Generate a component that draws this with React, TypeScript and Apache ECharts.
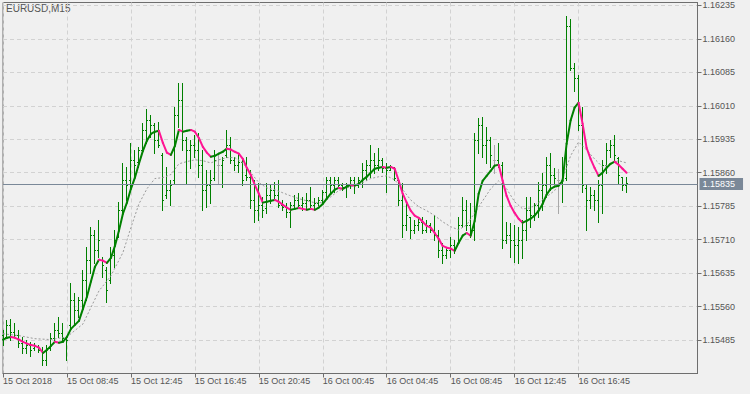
import React, { useEffect, useRef } from "react";
import * as echarts from "echarts";

const SYMBOL_TITLE = "EURUSD,M15";
const BID = 1.15835;

// time labels every 16 bars (4 hours of M15)
const xLabels = [
  "15 Oct 2018", "15 Oct 08:45", "15 Oct 12:45", "15 Oct 16:45", "15 Oct 20:45",
  "16 Oct 00:45", "16 Oct 04:45", "16 Oct 08:45", "16 Oct 12:45", "16 Oct 16:45",
];

// price tick labels on the right axis
const yTicks = [1.15485, 1.1556, 1.15635, 1.1571, 1.15785, 1.1586, 1.15935, 1.1601, 1.16085, 1.1616, 1.16235];

const open = [
  1.15495, 1.1549, 1.15517, 1.15501, 1.15495, 1.15477, 1.15465, 1.15472, 1.15465, 1.15468,
  1.15461, 1.15439, 1.15465, 1.15488, 1.15506, 1.15499, 1.15488, 1.15517, 1.15573, 1.15551,
  1.15573, 1.15618, 1.15663, 1.15719, 1.15685, 1.15663, 1.1564, 1.15618, 1.15674, 1.15719,
  1.15775, 1.15842, 1.15842, 1.15887, 1.15882, 1.15909, 1.15954, 1.15977, 1.15965, 1.15932,
  1.15898, 1.15808, 1.1582, 1.15842, 1.15988, 1.16021, 1.15932, 1.15909, 1.1592, 1.15909,
  1.15876, 1.1582, 1.15831, 1.15847, 1.15876, 1.15876, 1.15898, 1.1592, 1.15887, 1.15876,
  1.15882, 1.15853, 1.15849, 1.15797, 1.15775, 1.15786, 1.15779, 1.15808, 1.1582, 1.15808,
  1.15786, 1.15782, 1.1577, 1.15786, 1.15797, 1.15786, 1.1579, 1.15797, 1.15786, 1.1579,
  1.15797, 1.15815, 1.15842, 1.15831, 1.15842, 1.15831, 1.15826, 1.15831, 1.15842, 1.15831,
  1.15842, 1.15864, 1.15876, 1.15887, 1.15876, 1.15887, 1.15869, 1.15864, 1.15871, 1.15842,
  1.15797, 1.15741, 1.15759, 1.1573, 1.15741, 1.15748, 1.1573, 1.15741, 1.1573, 1.15719,
  1.15685, 1.15674, 1.15685, 1.15696, 1.15701, 1.15741, 1.15775, 1.15741, 1.1573, 1.15932,
  1.15965, 1.1592, 1.15932, 1.15887, 1.15887, 1.15876, 1.15708, 1.15719, 1.15708, 1.15696,
  1.15708, 1.1573, 1.15775, 1.15764, 1.15786, 1.1582, 1.15831, 1.15876, 1.15853, 1.15842,
  1.15842, 1.15847, 1.16187, 1.16093, 1.16071, 1.15965, 1.15824, 1.15797, 1.15808, 1.15797,
  1.15831, 1.15876, 1.15909, 1.1592, 1.15891, 1.15849, 1.15831,
];

const high = [
  1.15506, 1.15528, 1.1553, 1.15521, 1.15506, 1.1549, 1.15483, 1.15479, 1.15477, 1.15472,
  1.15468, 1.15472, 1.15499, 1.15521, 1.15535, 1.15521, 1.1549, 1.15611, 1.15589, 1.1558,
  1.1564, 1.15692, 1.15737, 1.1573, 1.15752, 1.15669, 1.15647, 1.15692, 1.1573, 1.15793,
  1.1588, 1.15871, 1.15925, 1.15909, 1.15916, 1.1597, 1.16001, 1.15988, 1.1597, 1.15972,
  1.15903, 1.15871, 1.15842, 1.16006, 1.16059, 1.16059, 1.15938, 1.15932, 1.15943, 1.15947,
  1.15909, 1.15864, 1.15864, 1.15909, 1.15903, 1.15894, 1.15954, 1.15938, 1.15894, 1.15903,
  1.15887, 1.15894, 1.15864, 1.15842, 1.15835, 1.15804, 1.15835, 1.15831, 1.15838, 1.15842,
  1.15797, 1.1579, 1.15793, 1.15808, 1.15813, 1.15804, 1.15813, 1.15826, 1.15802, 1.15804,
  1.1582, 1.15849, 1.15849, 1.15849, 1.15849, 1.15835, 1.15835, 1.15849, 1.15849, 1.15849,
  1.1588, 1.15887, 1.1592, 1.15903, 1.15914, 1.15891, 1.1588, 1.15876, 1.15871, 1.15842,
  1.15835, 1.1579, 1.15759, 1.15752, 1.15759, 1.15759, 1.15752, 1.15746, 1.15764, 1.1573,
  1.15701, 1.15692, 1.15714, 1.15708, 1.15759, 1.15804, 1.15797, 1.1579, 1.15947, 1.15981,
  1.15983, 1.15961, 1.15938, 1.1592, 1.15925, 1.15882, 1.15748, 1.15746, 1.15741, 1.15737,
  1.15752, 1.15804, 1.15804, 1.1579, 1.15838, 1.15858, 1.15894, 1.15903, 1.15869, 1.15867,
  1.15894, 1.1621, 1.16203, 1.16104, 1.16077, 1.16006, 1.15831, 1.15826, 1.1582, 1.15842,
  1.15887, 1.15925, 1.15932, 1.15943, 1.15894, 1.15849, 1.15849,
];

const low = [
  1.15472, 1.1549, 1.15483, 1.1549, 1.15468, 1.15454, 1.15454, 1.15448, 1.15461, 1.15456,
  1.15427, 1.15427, 1.15461, 1.15483, 1.1549, 1.15483, 1.15439, 1.15513, 1.15521, 1.15535,
  1.15551, 1.15573, 1.15634, 1.15656, 1.15669, 1.15625, 1.15569, 1.15611, 1.15647, 1.15714,
  1.15759, 1.15797, 1.15826, 1.15849, 1.15871, 1.15903, 1.15925, 1.15938, 1.15903, 1.15916,
  1.15775, 1.15802, 1.15786, 1.15835, 1.15961, 1.15909, 1.15835, 1.15869, 1.15894, 1.15849,
  1.15775, 1.15782, 1.1579, 1.15842, 1.15835, 1.15826, 1.15894, 1.1588, 1.15864, 1.1586,
  1.15831, 1.15842, 1.15779, 1.15748, 1.15752, 1.15759, 1.15768, 1.1579, 1.15802, 1.15782,
  1.15775, 1.15759, 1.15737, 1.15782, 1.15782, 1.15775, 1.15779, 1.15782, 1.15779, 1.15786,
  1.1579, 1.15804, 1.15813, 1.15815, 1.15824, 1.1582, 1.15804, 1.15824, 1.15813, 1.15826,
  1.15826, 1.15842, 1.15849, 1.15858, 1.15864, 1.1586, 1.15815, 1.15864, 1.15842, 1.15786,
  1.15714, 1.1573, 1.15712, 1.15723, 1.1573, 1.15723, 1.15725, 1.15725, 1.15708, 1.15669,
  1.15656, 1.15667, 1.15669, 1.15678, 1.15701, 1.15737, 1.1573, 1.15714, 1.15708, 1.15903,
  1.15894, 1.1588, 1.15871, 1.15858, 1.15871, 1.1569, 1.15701, 1.15669, 1.15658, 1.15656,
  1.15667, 1.15708, 1.15737, 1.15752, 1.15759, 1.15775, 1.15804, 1.1582, 1.15835, 1.15768,
  1.15793, 1.15842, 1.16089, 1.16042, 1.15954, 1.15815, 1.1573, 1.15779, 1.15775, 1.15748,
  1.15768, 1.15858, 1.15894, 1.15887, 1.15835, 1.1582, 1.15815,
];

const close = [
  1.15488, 1.15517, 1.15501, 1.15495, 1.15477, 1.15465, 1.15472, 1.15461, 1.1547, 1.15461,
  1.15439, 1.15465, 1.15488, 1.15506, 1.15499, 1.15488, 1.15483, 1.15573, 1.15551, 1.15573,
  1.15618, 1.15663, 1.15719, 1.15685, 1.15708, 1.15651, 1.15595, 1.15674, 1.15708, 1.15775,
  1.15842, 1.15831, 1.15887, 1.15876, 1.15909, 1.15954, 1.15977, 1.15965, 1.15932, 1.1592,
  1.15797, 1.1582, 1.15831, 1.15988, 1.16021, 1.15932, 1.15909, 1.1592, 1.15909, 1.15876,
  1.1582, 1.15831, 1.15842, 1.15887, 1.15876, 1.15887, 1.1592, 1.15887, 1.15876, 1.15882,
  1.15842, 1.15849, 1.15797, 1.15775, 1.15786, 1.15775, 1.15808, 1.1582, 1.15808, 1.15786,
  1.15782, 1.1577, 1.15786, 1.15797, 1.15786, 1.1579, 1.15797, 1.15786, 1.1579, 1.15797,
  1.15815, 1.15842, 1.15831, 1.15842, 1.15831, 1.15826, 1.15831, 1.15842, 1.15831, 1.15842,
  1.15864, 1.15876, 1.15887, 1.15876, 1.15887, 1.15869, 1.15864, 1.15871, 1.15847, 1.15797,
  1.15741, 1.15764, 1.1573, 1.15741, 1.15748, 1.1573, 1.15741, 1.1573, 1.15719, 1.15685,
  1.15674, 1.15685, 1.15696, 1.15685, 1.15741, 1.15775, 1.15741, 1.1573, 1.15932, 1.15965,
  1.1592, 1.15932, 1.15898, 1.15887, 1.15876, 1.15708, 1.15719, 1.15708, 1.15696, 1.15708,
  1.1573, 1.15775, 1.15764, 1.15786, 1.1582, 1.15831, 1.15876, 1.15853, 1.15847, 1.15842,
  1.15864, 1.16187, 1.16093, 1.16071, 1.15965, 1.15831, 1.15797, 1.15808, 1.15797, 1.15831,
  1.15876, 1.15909, 1.1592, 1.15898, 1.15853, 1.15831, 1.15835,
];

// fast moving average (thick line, green rising / pink falling)
const maFast = [
  1.15486, 1.1549, 1.15492, 1.1549, 1.15486, 1.15481, 1.15477, 1.15474, 1.15472, 1.15468,
  1.15456, 1.15463, 1.15472, 1.15481, 1.15479, 1.15481, 1.15492, 1.1551, 1.15519, 1.15528,
  1.15555, 1.15582, 1.15616, 1.15649, 1.15665, 1.15663, 1.15658, 1.15669, 1.15696, 1.1573,
  1.15768, 1.15793, 1.15824, 1.15849, 1.1588, 1.15909, 1.15932, 1.15947, 1.15952, 1.15954,
  1.15927, 1.15905, 1.159, 1.1592, 1.15956, 1.15952, 1.15954, 1.15956, 1.15952, 1.15938,
  1.15918, 1.15905, 1.15896, 1.15898, 1.15903, 1.15907, 1.15914, 1.15912, 1.15907, 1.15903,
  1.15891, 1.15871, 1.15855, 1.15833, 1.15813, 1.15793, 1.15795, 1.15797, 1.15799, 1.15795,
  1.15788, 1.15782, 1.15777, 1.15779, 1.15781, 1.15779, 1.15777, 1.15779, 1.15777, 1.15782,
  1.1579, 1.15802, 1.15813, 1.15822, 1.15826, 1.15824, 1.15829, 1.15833, 1.15831, 1.15835,
  1.15844, 1.15851, 1.1586, 1.15869, 1.15871, 1.15873, 1.15871, 1.15873, 1.15869, 1.15842,
  1.15813, 1.15793, 1.15775, 1.15764, 1.15759, 1.1575, 1.15741, 1.15737, 1.15725, 1.15712,
  1.15696, 1.15692, 1.1569, 1.15685, 1.15703, 1.15719, 1.15725, 1.15719, 1.15752, 1.15813,
  1.15842, 1.15853, 1.15864, 1.15876, 1.15878, 1.15842, 1.15808, 1.15786, 1.1577, 1.15757,
  1.15748, 1.15752, 1.15757, 1.15764, 1.15775, 1.1579, 1.15811, 1.15824, 1.15829, 1.15831,
  1.15842, 1.15925, 1.15977, 1.16006, 1.16017, 1.1597, 1.15916, 1.15891, 1.15871, 1.15853,
  1.1586, 1.15871, 1.1588, 1.15885, 1.15878, 1.15869, 1.1586,
];

// slow moving average (gray dotted line), read at these bar indices
const maSlowBars = [
  0, 4, 8, 12, 16, 20, 24, 27, 30, 32, 34, 36, 38, 40, 42, 44, 46, 48, 50, 52, 54, 56, 58, 60,
  62, 64, 66, 68, 70, 72, 74, 76, 78, 80, 82, 84, 86, 88, 90, 92, 94, 96, 98, 100, 102, 104,
  106, 108, 110, 112, 114, 116, 118, 120, 122, 124, 126, 128, 130, 132, 134, 136, 138, 140,
  142, 144, 146, 148, 150, 152, 154, 156,
];
const maSlow = [
  1.15499, 1.15495, 1.15488, 1.15486, 1.15492, 1.15521, 1.15595, 1.15629, 1.15681, 1.15737,
  1.1579, 1.15824, 1.15847, 1.15849, 1.15856, 1.1588, 1.15885, 1.15889, 1.15887, 1.15882,
  1.15889, 1.15894, 1.15894, 1.15882, 1.1586, 1.15838, 1.15826, 1.15822, 1.15815, 1.15808,
  1.15802, 1.15797, 1.15793, 1.15793, 1.15806, 1.1582, 1.15826, 1.15831, 1.15838, 1.15847,
  1.15851, 1.15853, 1.15844, 1.15822, 1.15799, 1.15784, 1.15775, 1.15764, 1.1575, 1.15739,
  1.15732, 1.15743, 1.1577, 1.15797, 1.15824, 1.15842, 1.15824, 1.15795, 1.15779, 1.15781,
  1.15793, 1.15806, 1.1582, 1.15847, 1.15898, 1.15929, 1.15911, 1.15891, 1.15873, 1.1588,
  1.15887, 1.15882,
];

const BASE = yTicks[0];
const STEP = 75; // points between price ticks
// axis works in points (1e-5) relative to the first price tick
const toAx = (p: number) => Math.round((p - BASE) * 1e7) / 100;
const fromAx = (v: number) => (BASE + v / 1e5).toFixed(5);

const FONT = "Liberation Sans";
const TXT = "#555555";
const AXIS = "#6e6e6e";
const GRIDC = "#d2d2d2";
const BAR = "#008000";
const DOJI = "#a8a8a8";
const UP = "#008000";
const DOWN = "#ff1493";

export default function App() {
  const ref = useRef<HTMLDivElement>(null);
  useEffect(() => {
    if (!ref.current) return;
    const chart = echarts.init(ref.current, null, { renderer: "svg" });

    const barData = open.map((o, i) => [i, toAx(o), toAx(high[i]), toAx(low[i]), toAx(close[i])]);
    const maData = maFast.slice(1).map((v, i) => [i, i + 1, toAx(maFast[i]), toAx(v)]);
    const slowData = maSlowBars.map((k, i) => [k, toAx(maSlow[i])]);
    const labelBars = xLabels.map((_, i) => i * 16);

    const option: any = {
      animation: false,
      backgroundColor: "#f0f0f0",
      grid: {
        left: 2.5, top: 2.5, right: 52.5, bottom: 20.5,
        show: true, borderColor: AXIS, borderWidth: 1, backgroundColor: "transparent",
      },
      graphic: [
        {
          type: "text", left: 6, top: 3,
          style: { text: SYMBOL_TITLE, fill: TXT, fontSize: 10, fontFamily: FONT },
        },
      ],
      xAxis: {
        type: "value",
        min: 0,
        max: 173.75,
        interval: 8,
        axisLine: { show: true, onZero: false, lineStyle: { color: AXIS, width: 1 } },
        axisTick: { show: true, length: 4, inside: false, lineStyle: { color: AXIS }, customValues: labelBars },
        axisLabel: {
          customValues: labelBars,
          formatter: (v: number) => xLabels[Math.round(v / 16)] ?? "",
          align: "left",
          margin: 3,
          color: TXT, fontSize: 9, fontFamily: FONT,
        },
        splitLine: { show: true, lineStyle: { color: GRIDC, type: [4, 3], width: 1 } },
      },
      yAxis: {
        type: "value",
        position: "right",
        min: -STEP,
        max: 756.6,
        interval: STEP,
        axisLine: { show: true, onZero: false, lineStyle: { color: AXIS, width: 1 } },
        axisTick: { show: true, length: 4, inside: false, lineStyle: { color: AXIS }, customValues: yTicks.map(toAx) },
        axisLabel: {
          customValues: yTicks.map(toAx),
          formatter: (v: number) => fromAx(v),
          margin: 5,
          color: TXT, fontSize: 9, fontFamily: FONT,
        },
        splitLine: { show: true, lineStyle: { color: GRIDC, type: [4, 3], width: 1 } },
      },
      series: [
        {
          type: "custom",
          name: "bars",
          z: 2,
          data: barData,
          encode: { x: 0, y: [2, 3] },
          renderItem: (params: any, api: any) => {
            const k = api.value(0);
            const o = api.value(1);
            const c = api.value(4);
            const pO = api.coord([k, o]);
            const pH = api.coord([k, api.value(2)]);
            const pL = api.coord([k, api.value(3)]);
            const pC = api.coord([k, c]);
            const x = Math.floor(pH[0]) + 0.5;
            const snap = (y: number) => Math.floor(y) + 0.5;
            const color = o === c ? DOJI : BAR;
            const st = { stroke: color, lineWidth: 1 };
            return {
              type: "group",
              children: [
                { type: "line", shape: { x1: x, y1: Math.floor(pH[1]), x2: x, y2: Math.floor(pL[1]) + 1 }, style: st },
                { type: "line", shape: { x1: x - 1.5, y1: snap(pO[1]), x2: x - 0.5, y2: snap(pO[1]) }, style: st },
                { type: "line", shape: { x1: x + 0.5, y1: snap(pC[1]), x2: x + 1.5, y2: snap(pC[1]) }, style: st },
              ],
            };
          },
        },
        {
          type: "line",
          name: "slow",
          z: 3,
          data: slowData,
          showSymbol: false,
          symbol: "none",
          lineStyle: { color: "#9a9a9a", width: 1, type: [2, 2] },
          markLine: {
            silent: true,
            symbol: ["none", "none"],
            animation: false,
            data: [{ yAxis: toAx(BID) }],
            lineStyle: { color: "#7a8898", width: 1, type: "solid" },
            label: {
              show: true,
              position: "end",
              distance: 2,
              formatter: () => BID.toFixed(5),
              color: "#ffffff",
              backgroundColor: "#7a8898",
              padding: [2, 8, 1, 3],
              fontSize: 9,
              fontFamily: FONT,
            },
          },
        },
        {
          type: "custom",
          name: "fast",
          z: 4,
          data: maData,
          encode: { x: [0, 1], y: [2, 3] },
          renderItem: (params: any, api: any) => {
            const p1 = api.coord([api.value(0), api.value(2)]);
            const p2 = api.coord([api.value(1), api.value(3)]);
            const up = api.value(3) >= api.value(2);
            return {
              type: "line",
              shape: { x1: p1[0], y1: p1[1], x2: p2[0], y2: p2[1] },
              style: { stroke: up ? UP : DOWN, lineWidth: 2, lineCap: "round" },
            };
          },
        },
      ],
    };
    chart.setOption(option);
    return () => chart.dispose();
  }, []);

  return (
    <div
      ref={ref}
      style={{ position: "fixed", left: 0, top: 0, width: 750, height: 394 }}
    />
  );
}
